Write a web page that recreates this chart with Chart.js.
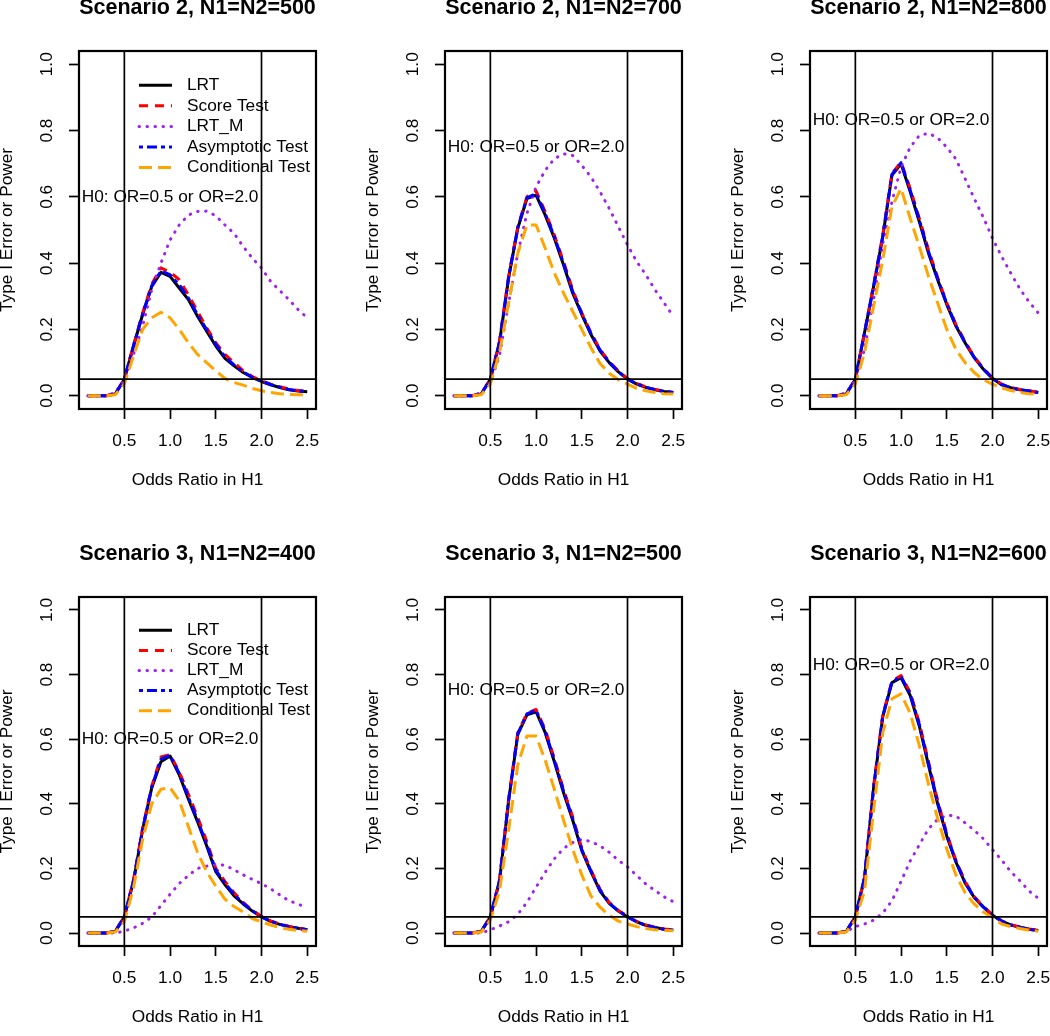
<!DOCTYPE html>
<html>
<head>
<meta charset="utf-8">
<script src="https://cdn.jsdelivr.net/npm/chart.js@4.4.1/dist/chart.umd.min.js"></script>
<style>
  html, body { margin: 0; padding: 0; background: #fff; overflow: hidden; }
  #page { position: relative; width: 1050px; height: 1036px; overflow: hidden; background: #fff; }
  #page canvas { position: absolute; }
</style>
</head>
<body>
<div id="page"></div>
<script>
// odds ratio grid under H1
const oddsRatio = [0.1, 0.2, 0.3, 0.4, 0.5, 0.6, 0.7, 0.8, 0.9, 1.0, 1.1, 1.2, 1.3,
  1.4, 1.5, 1.6, 1.7, 1.8, 1.9, 2.0, 2.1, 2.2, 2.3, 2.4, 2.5];
const xTicks = [0.5, 1.0, 1.5, 2.0, 2.5];
const yTicks = [0.0, 0.2, 0.4, 0.6, 0.8, 1.0];

const panelTitles = [
  'Scenario 2, N1=N2=500', 'Scenario 2, N1=N2=700', 'Scenario 2, N1=N2=800',
  'Scenario 3, N1=N2=400', 'Scenario 3, N1=N2=500', 'Scenario 3, N1=N2=600'
];
const h0Label = 'H0: OR=0.5 or OR=2.0';
const h0LabelOR = 1.0;
const h0LabelY = [0.6, 0.75, 0.83, 0.6, 0.75, 0.83];
const legendPanels = [0, 3];
const nullOR = [0.5, 2.0];
const alphaLevel = 0.05;

const seriesNames = ['LRT', 'Score Test', 'LRT_M', 'Asymptotic Test', 'Conditional Test'];

// one row per panel, reading order
const lrtPower = [
  [0, 0, 0, 0.005, 0.05, 0.15, 0.245, 0.33, 0.372, 0.36, 0.325, 0.29, 0.24, 0.195, 0.15, 0.113, 0.09, 0.07, 0.055, 0.043, 0.033, 0.025, 0.018, 0.014, 0.012],
  [0, 0, 0, 0.005, 0.05, 0.16, 0.356, 0.505, 0.595, 0.605, 0.545, 0.475, 0.395, 0.31, 0.245, 0.185, 0.135, 0.1, 0.072, 0.05, 0.035, 0.025, 0.018, 0.013, 0.01],
  [0, 0, 0, 0.005, 0.05, 0.19, 0.33, 0.48, 0.665, 0.7, 0.615, 0.525, 0.43, 0.35, 0.275, 0.21, 0.16, 0.115, 0.08, 0.052, 0.033, 0.024, 0.018, 0.014, 0.01],
  [0, 0, 0, 0.005, 0.05, 0.16, 0.32, 0.45, 0.53, 0.548, 0.49, 0.415, 0.345, 0.27, 0.19, 0.15, 0.115, 0.09, 0.068, 0.05, 0.036, 0.027, 0.02, 0.015, 0.01],
  [0, 0, 0, 0.005, 0.05, 0.16, 0.41, 0.615, 0.675, 0.685, 0.62, 0.53, 0.435, 0.35, 0.255, 0.19, 0.13, 0.092, 0.068, 0.05, 0.035, 0.024, 0.017, 0.012, 0.009],
  [0, 0, 0, 0.005, 0.05, 0.17, 0.45, 0.67, 0.775, 0.79, 0.735, 0.64, 0.52, 0.4, 0.3, 0.22, 0.155, 0.11, 0.08, 0.055, 0.037, 0.025, 0.018, 0.012, 0.008]
];
const scorePower = [
  [0, 0, 0, 0.006, 0.05, 0.152, 0.25, 0.337, 0.386, 0.373, 0.35, 0.305, 0.255, 0.205, 0.16, 0.125, 0.1, 0.075, 0.058, 0.045, 0.035, 0.027, 0.02, 0.016, 0.013],
  [0, 0, 0, 0.006, 0.05, 0.165, 0.36, 0.51, 0.6, 0.618, 0.555, 0.485, 0.405, 0.32, 0.25, 0.19, 0.14, 0.103, 0.075, 0.052, 0.037, 0.027, 0.019, 0.014, 0.01],
  [0, 0, 0, 0.006, 0.05, 0.19, 0.335, 0.485, 0.67, 0.705, 0.625, 0.535, 0.44, 0.357, 0.28, 0.215, 0.163, 0.118, 0.082, 0.054, 0.035, 0.025, 0.019, 0.015, 0.01],
  [0, 0, 0, 0.006, 0.05, 0.165, 0.325, 0.455, 0.545, 0.552, 0.5, 0.43, 0.36, 0.285, 0.2, 0.16, 0.125, 0.095, 0.07, 0.052, 0.038, 0.028, 0.021, 0.015, 0.01],
  [0, 0, 0, 0.006, 0.05, 0.165, 0.415, 0.62, 0.68, 0.692, 0.63, 0.54, 0.445, 0.36, 0.262, 0.195, 0.135, 0.095, 0.07, 0.052, 0.036, 0.025, 0.018, 0.013, 0.01],
  [0, 0, 0, 0.006, 0.05, 0.172, 0.455, 0.675, 0.78, 0.797, 0.745, 0.65, 0.53, 0.41, 0.308, 0.225, 0.16, 0.113, 0.082, 0.057, 0.038, 0.026, 0.019, 0.013, 0.009]
];
const lrtMPower = [
  [0, 0, 0, 0.01, 0.045, 0.125, 0.21, 0.32, 0.4, 0.47, 0.515, 0.545, 0.556, 0.557, 0.543, 0.515, 0.49, 0.45, 0.415, 0.385, 0.345, 0.317, 0.29, 0.26, 0.235],
  [0, 0, 0, 0.01, 0.04, 0.12, 0.28, 0.43, 0.55, 0.63, 0.68, 0.715, 0.73, 0.725, 0.695, 0.66, 0.615, 0.565, 0.51, 0.455, 0.405, 0.365, 0.32, 0.28, 0.24],
  [0, 0, 0, 0.01, 0.045, 0.14, 0.29, 0.46, 0.585, 0.69, 0.75, 0.785, 0.792, 0.778, 0.75, 0.714, 0.655, 0.595, 0.538, 0.475, 0.42, 0.37, 0.322, 0.283, 0.25],
  [0, 0, 0, 0, 0.006, 0.016, 0.03, 0.05, 0.085, 0.12, 0.153, 0.178, 0.2, 0.207, 0.212, 0.21, 0.196, 0.18, 0.166, 0.153, 0.137, 0.118, 0.1, 0.09, 0.077],
  [0, 0, 0, 0, 0.01, 0.022, 0.035, 0.058, 0.095, 0.142, 0.188, 0.23, 0.262, 0.28, 0.29, 0.283, 0.27, 0.25, 0.225, 0.205, 0.178, 0.152, 0.132, 0.112, 0.097],
  [0, 0, 0, 0.005, 0.02, 0.028, 0.04, 0.062, 0.1, 0.16, 0.223, 0.273, 0.323, 0.352, 0.365, 0.362, 0.341, 0.318, 0.292, 0.258, 0.226, 0.19, 0.162, 0.13, 0.108]
];
const asymPower = [
  [0, 0, 0, 0.005, 0.05, 0.15, 0.247, 0.332, 0.376, 0.365, 0.335, 0.295, 0.245, 0.2, 0.155, 0.118, 0.093, 0.072, 0.056, 0.044, 0.034, 0.026, 0.019, 0.015, 0.012],
  [0, 0, 0, 0.005, 0.05, 0.162, 0.358, 0.507, 0.597, 0.61, 0.55, 0.48, 0.4, 0.315, 0.248, 0.188, 0.138, 0.101, 0.073, 0.051, 0.036, 0.026, 0.018, 0.013, 0.01],
  [0, 0, 0, 0.005, 0.05, 0.19, 0.332, 0.482, 0.668, 0.703, 0.62, 0.53, 0.435, 0.353, 0.278, 0.212, 0.161, 0.116, 0.081, 0.053, 0.034, 0.024, 0.018, 0.014, 0.01],
  [0, 0, 0, 0.005, 0.05, 0.162, 0.322, 0.452, 0.538, 0.55, 0.495, 0.42, 0.35, 0.275, 0.195, 0.155, 0.12, 0.092, 0.069, 0.051, 0.037, 0.027, 0.02, 0.015, 0.01],
  [0, 0, 0, 0.005, 0.05, 0.162, 0.412, 0.617, 0.678, 0.69, 0.625, 0.535, 0.44, 0.355, 0.258, 0.192, 0.132, 0.093, 0.069, 0.051, 0.035, 0.024, 0.017, 0.012, 0.009],
  [0, 0, 0, 0.005, 0.05, 0.171, 0.452, 0.672, 0.777, 0.794, 0.74, 0.645, 0.525, 0.405, 0.304, 0.222, 0.157, 0.111, 0.081, 0.056, 0.037, 0.025, 0.018, 0.012, 0.008]
];
const condPower = [
  [0, 0, 0, 0.003, 0.035, 0.12, 0.2, 0.235, 0.252, 0.235, 0.2, 0.16, 0.125, 0.1, 0.075, 0.052, 0.04, 0.032, 0.022, 0.015, 0.01, 0.006, 0.004, 0.003, 0.003],
  [0, 0, 0, 0.003, 0.035, 0.13, 0.28, 0.43, 0.515, 0.515, 0.445, 0.37, 0.31, 0.255, 0.2, 0.145, 0.097, 0.068, 0.048, 0.035, 0.022, 0.015, 0.01, 0.006, 0.005],
  [0, 0, 0, 0.003, 0.035, 0.13, 0.27, 0.41, 0.57, 0.625, 0.535, 0.45, 0.36, 0.28, 0.2, 0.14, 0.1, 0.07, 0.048, 0.035, 0.024, 0.016, 0.01, 0.006, 0.005],
  [0, 0, 0, 0.003, 0.035, 0.14, 0.29, 0.4, 0.445, 0.45, 0.41, 0.33, 0.25, 0.19, 0.145, 0.105, 0.082, 0.065, 0.045, 0.035, 0.025, 0.017, 0.012, 0.008, 0.006],
  [0, 0, 0, 0.003, 0.04, 0.13, 0.32, 0.52, 0.61, 0.61, 0.535, 0.445, 0.35, 0.26, 0.18, 0.115, 0.08, 0.055, 0.037, 0.028, 0.02, 0.014, 0.01, 0.008, 0.007],
  [0, 0, 0, 0.003, 0.04, 0.13, 0.38, 0.62, 0.725, 0.74, 0.68, 0.58, 0.46, 0.355, 0.26, 0.18, 0.125, 0.09, 0.065, 0.048, 0.028, 0.02, 0.014, 0.009, 0.006]
];
const seriesPower = [lrtPower, scorePower, lrtMPower, asymPower, condPower];

// R-like line types (lty 1..5)
const lineStyles = [
  { color: '#000000', dash: [], cap: 'butt' },
  { color: '#FF0000', dash: [9, 7], cap: 'butt' },
  { color: '#A020F0', dash: [0.5, 7.5], cap: 'round' },
  { color: '#0000FF', dash: [4, 4, 10, 4], cap: 'butt' },
  { color: '#FFA500', dash: [13, 6], cap: 'butt' }
];

// page layout: plot boxes in page pixels
const colBox = [[79, 316], [445, 682], [810, 1047]];
const rowBox = [[51, 409], [597, 946]];
const padLeft = 89, padTop = 60, padBottom = 90, padRight = 20;
const legendAt = { x: 0.66, y: 0.937, rowStep: 0.0622, lineLen: 33, textGap: 15 };
const TEXT_SIZE = 17.3;

const FONT = '"Liberation Sans", Arial, Helvetica, sans-serif';
Chart.defaults.font.family = FONT;
Chart.defaults.color = '#000';

const rPlot = {
  id: 'rPlot',
  afterDatasetsDraw(chart, args, opts) {
    const { ctx, chartArea: a } = chart;
    const x = chart.scales.x, y = chart.scales.y;
    ctx.save();

    // reference lines at the null ORs and the nominal level
    ctx.strokeStyle = '#000';
    ctx.lineWidth = 1.7;
    ctx.beginPath();
    nullOR.forEach(v => {
      const px = x.getPixelForValue(v);
      ctx.moveTo(px, a.top);
      ctx.lineTo(px, a.bottom);
    });
    const py = y.getPixelForValue(alphaLevel);
    ctx.moveTo(a.left, py);
    ctx.lineTo(a.right, py);
    ctx.stroke();

    // box
    ctx.lineWidth = 2.2;
    ctx.strokeRect(a.left, a.top, a.right - a.left, a.bottom - a.top);

    ctx.font = TEXT_SIZE + 'px ' + FONT;
    ctx.fillStyle = '#000';
    ctx.textAlign = 'center';
    ctx.textBaseline = 'middle';
    ctx.fillText(h0Label, x.getPixelForValue(h0LabelOR), y.getPixelForValue(opts.h0Y));

    if (opts.legend) {
      const x0 = x.getPixelForValue(legendAt.x);
      chart.data.datasets.forEach((ds, i) => {
        const ly = y.getPixelForValue(legendAt.y - i * legendAt.rowStep);
        ctx.save();
        ctx.strokeStyle = ds.borderColor;
        ctx.lineWidth = ds.borderWidth;
        ctx.lineCap = ds.borderCapStyle;
        ctx.setLineDash(ds.borderDash);
        ctx.beginPath();
        ctx.moveTo(x0, ly);
        ctx.lineTo(x0 + legendAt.lineLen, ly);
        ctx.stroke();
        ctx.restore();
        ctx.textAlign = 'left';
        ctx.fillText(ds.label, x0 + legendAt.lineLen + legendAt.textGap, ly);
      });
    }
    ctx.restore();
  }
};

const page = document.getElementById('page');

panelTitles.forEach((title, p) => {
  const [bl, br] = colBox[p % 3];
  const [bt, bb] = rowBox[Math.floor(p / 3)];
  const canvas = document.createElement('canvas');
  canvas.width = padLeft + (br - bl) + padRight;
  canvas.height = padTop + (bb - bt) + padBottom;
  canvas.style.left = (bl - padLeft) + 'px';
  canvas.style.top = (bt - padTop) + 'px';
  page.appendChild(canvas);

  const datasets = seriesNames.map((name, s) => ({
    label: name,
    data: oddsRatio.map((or, k) => ({ x: or, y: seriesPower[s][p][k] })),
    borderColor: lineStyles[s].color,
    borderWidth: 3,
    borderDash: lineStyles[s].dash,
    borderCapStyle: lineStyles[s].cap,
    borderJoinStyle: 'round',
    pointRadius: 0,
    tension: 0,
    fill: false,
    order: seriesNames.length - s
  }));

  new Chart(canvas, {
    type: 'line',
    data: { datasets },
    options: {
      responsive: false,
      animation: false,
      events: [],
      layout: { padding: { left: 0, top: 0, right: padRight, bottom: 0 } },
      plugins: {
        legend: { display: false },
        tooltip: { enabled: false },
        title: {
          display: true,
          text: title,
          fullSize: false,
          color: '#000',
          font: { size: 21.5, weight: 'bold' },
          padding: { top: 4.6, bottom: 29.6 }
        },
        rPlot: { h0Y: h0LabelY[p], legend: legendPanels.includes(p) }
      },
      scales: {
        x: {
          type: 'linear',
          min: 0.004,
          max: 2.596,
          afterBuildTicks: s => { s.ticks = xTicks.map(v => ({ value: v })); },
          afterFit: s => { s.height = padBottom; },
          ticks: {
            autoSkip: false, maxRotation: 0, padding: 11.6, color: '#000',
            font: { size: TEXT_SIZE },
            callback: v => v.toFixed(1)
          },
          grid: { drawOnChartArea: false, drawTicks: true, tickLength: 10, tickWidth: 1.7, tickColor: '#000' },
          border: { display: false },
          title: {
            display: true, text: 'Odds Ratio in H1', color: '#000',
            font: { size: TEXT_SIZE }, padding: { top: 0, bottom: 8.6 }
          }
        },
        y: {
          type: 'linear',
          min: -0.04,
          max: 1.04,
          afterBuildTicks: s => { s.ticks = yTicks.map(v => ({ value: v })); },
          afterFit: s => { s.width = padLeft; },
          ticks: {
            autoSkip: false, minRotation: 90, maxRotation: 90, crossAlign: 'center',
            padding: 9.3, color: '#000', font: { size: TEXT_SIZE },
            callback: v => v.toFixed(1)
          },
          grid: { drawOnChartArea: false, drawTicks: true, tickLength: 10, tickWidth: 1.7, tickColor: '#000' },
          border: { display: false },
          title: {
            display: true, text: 'Type I Error or Power', color: '#000',
            font: { size: TEXT_SIZE }, padding: { top: 6.6, bottom: 0 }
          }
        }
      }
    },
    plugins: [rPlot]
  });
});
</script>
</body>
</html>
